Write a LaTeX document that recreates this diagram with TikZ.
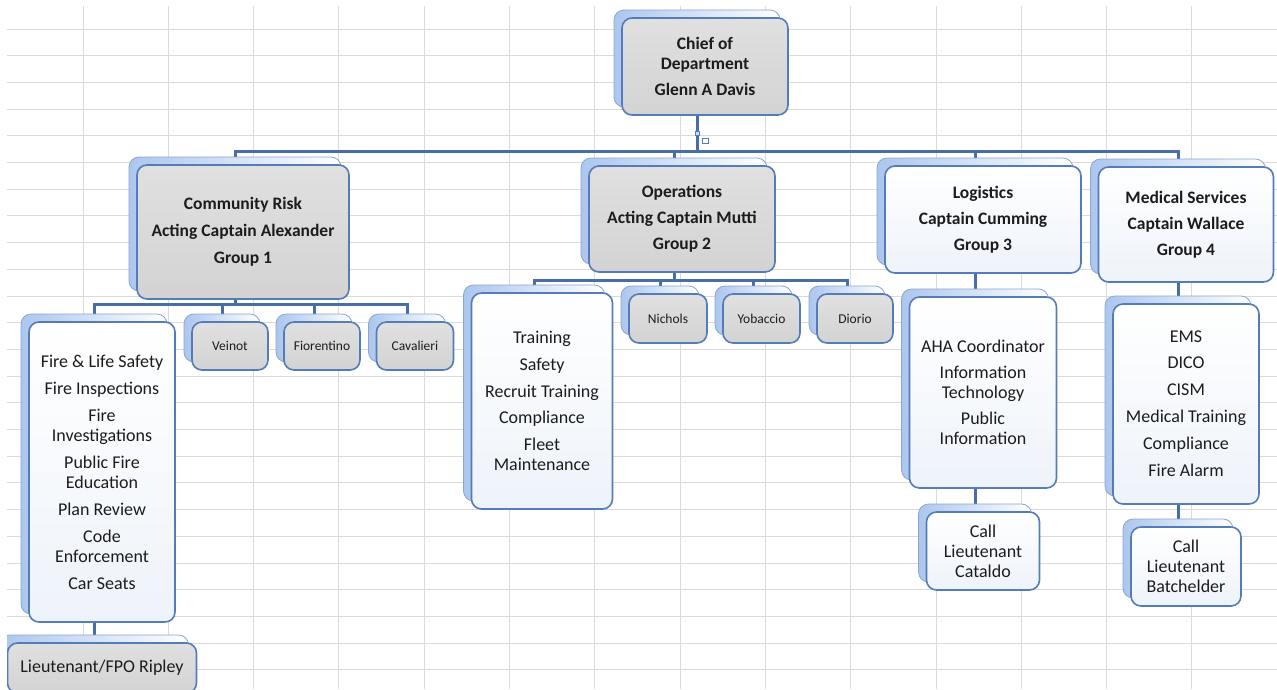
\documentclass[tikz,border=0pt]{standalone}
\usepackage{fontspec}
\setmainfont{Carlito}
\usetikzlibrary{calc}

\definecolor{linkblue}{RGB}{72,110,168}
\definecolor{edgeblue}{RGB}{84,124,184}
\definecolor{backedge}{RGB}{140,165,205}
\definecolor{backblue}{RGB}{172,198,238}
\definecolor{graytop}{RGB}{224,224,224}
\definecolor{graybot}{RGB}{211,211,211}
\definecolor{whitebot}{RGB}{238,243,250}
\definecolor{gridgray}{RGB}{218,218,218}
\definecolor{ink}{RGB}{28,28,28}

\newcommand\titlefont{\bfseries\fontsize{17.5}{20}\selectfont}
\newcommand\itemfont{\fontsize{18}{20}\selectfont}
\newcommand\namefont{\fontsize{13.5}{16}\selectfont}

\tikzset{
	backbox/.style={draw=backedge, line width=0.8pt, rounded corners=10pt, left color=backblue, right color=white, inner sep=0pt},
	graybox/.style={draw=edgeblue, line width=1.6pt, rounded corners=10pt, top color=graytop, bottom color=graybot, text=ink, align=center, inner sep=0pt},
	whitebox/.style={graybox, top color=white, bottom color=whitebot},
	link/.style={draw=linkblue, line width=3pt},
	gridline/.style={draw=gridgray, line width=0.9pt}
}

\pgfdeclarelayer{back}
\pgfsetlayers{back,main}

% style, name, x, y, width, height, text
\newcommand\orgbox[7]{%
	\node[backbox, minimum width=#5pt, minimum height=#6pt] (#2-b) at (#3,#4) {};
	\node[#1, minimum width=#5pt, minimum height=#6pt] (#2) at (#3+8,#4+8) {#7};}

\begin{document}
\begin{tikzpicture}[x=1pt, y=-1pt]
	\useasboundingbox (0,0) rectangle (1277,689);
	\begin{scope}
		\clip (7,6) rectangle (1277,689);
		%
		\orgbox{graybox, font=\titlefont}{chief}{697}{58.5}{166}{97}{Chief of\\Department\\[6pt]Glenn A Davis}
		%
		\orgbox{graybox, font=\titlefont}{crisk}{235}{224}{212}{134}{Community Risk\\[7pt]Acting Captain Alexander\\[7pt]Group 1}
		\orgbox{graybox, font=\titlefont}{ops}{674}{211}{186}{106}{Operations\\[6pt]Acting Captain Mutti\\[6pt]Group 2}
		\orgbox{whitebox, font=\titlefont}{logi}{975}{211.5}{196}{107}{Logistics\\[6pt]Captain Cumming\\[6pt]Group 3}
		\orgbox{whitebox, font=\titlefont}{medic}{1178}{216.5}{175}{115}{Medical Services\\[6pt]Captain Wallace\\[6pt]Group 4}
		%
		\orgbox{whitebox, font=\itemfont}{fire}{94}{464}{146}{300}{Fire \& Life Safety\\[7pt]Fire Inspections\\[7pt]Fire\\Investigations\\[7pt]Public Fire\\Education\\[7pt]Plan Review\\[7pt]Code\\Enforcement\\[7pt]Car Seats}
		\orgbox{graybox, font=\namefont}{veinot}{222}{338}{76}{48}{Veinot}
		\orgbox{graybox, font=\namefont}{fior}{314}{338}{76}{48}{Fiorentino}
		\orgbox{graybox, font=\namefont}{caval}{407}{338}{77}{48}{Cavalieri}
		\orgbox{graybox, font=\itemfont}{ripley}{94}{660}{189}{50}{Lieutenant/FPO Ripley}
		%
		\orgbox{whitebox, font=\itemfont}{train}{534}{393}{141}{216}{Training\\[7pt]Safety\\[7pt]Recruit Training\\[6pt]Compliance\\[7pt]Fleet\\Maintenance}
		\orgbox{graybox, font=\namefont}{nichols}{660}{310.5}{78}{49}{Nichols}
		\orgbox{graybox, font=\namefont}{yob}{753.5}{310.5}{77}{49}{Yobaccio}
		\orgbox{graybox, font=\namefont}{diorio}{847}{310.5}{76}{49}{Diorio}
		%
		\orgbox{whitebox, font=\itemfont}{aha}{975}{384.5}{147}{191}{AHA Coordinator\\[6pt]Information\\Technology\\[6pt]Public\\Information}
		\orgbox{whitebox, font=\itemfont}{cataldo}{975}{543}{113}{78}{Call\\Lieutenant\\Cataldo}
		\orgbox{whitebox, font=\itemfont}{ems}{1178}{396}{146}{200}{EMS\\[6pt]DICO\\[7pt]CISM\\[7pt]Medical Training\\[7pt]Compliance\\[7pt]Fire Alarm}
		\orgbox{whitebox, font=\itemfont}{batch}{1178}{558.5}{110}{79}{Call\\Lieutenant\\Batchelder}
		%
		\draw[edgeblue, line width=0.8pt, fill=backblue!60] (695,131) rectangle (699,135);
		\draw[edgeblue, line width=0.8pt, fill=white] (702.5,138) rectangle (708.5,143);
	\end{scope}
	%
	\begin{pgfonlayer}{back}
		\foreach \gx in {0,...,13}
			\draw[gridline] (83+85.3*\gx,6) -- (83+85.3*\gx,689);
		\foreach \gy in {0,...,24}
			\draw[gridline] (7,29+26.7*\gy) -- (1277,29+26.7*\gy);
		%
		\coordinate (bus) at (697,151.5);
		\coordinate (crbus) at (235,304);
		\coordinate (opbus) at (674,280);
		\draw[link] (chief-b) -- (chief-b |- bus);
		\draw[link] (crisk-b.north) |- (medic-b.north |- bus) -- (medic-b.north);
		\draw[link] (ops-b.north) -- (ops-b.north |- bus);
		\draw[link] (logi-b.north) -- (logi-b.north |- bus);
		%
		\draw[link] (crisk-b) -- (crisk-b |- crbus);
		\draw[link] (fire-b.north) |- (caval-b.north |- crbus) -- (caval-b.north);
		\draw[link] (veinot-b.north) -- (veinot-b.north |- crbus);
		\draw[link] (fior-b.north) -- (fior-b.north |- crbus);
		\draw[link] (fire-b) -- (ripley-b);
		%
		\draw[link] (ops-b) -- (ops-b |- opbus);
		\draw[link] (train-b.north) |- (diorio-b.north |- opbus) -- (diorio-b.north);
		\draw[link] (nichols-b.north) -- (nichols-b.north |- opbus);
		\draw[link] (yob-b.north) -- (yob-b.north |- opbus);
		%
		\draw[link] (logi-b) -- (aha-b);
		\draw[link] (aha-b) -- (cataldo-b);
		\draw[link] (medic-b) -- (ems-b);
		\draw[link] (ems-b) -- (batch-b);
	\end{pgfonlayer}
\end{tikzpicture}
\end{document}
